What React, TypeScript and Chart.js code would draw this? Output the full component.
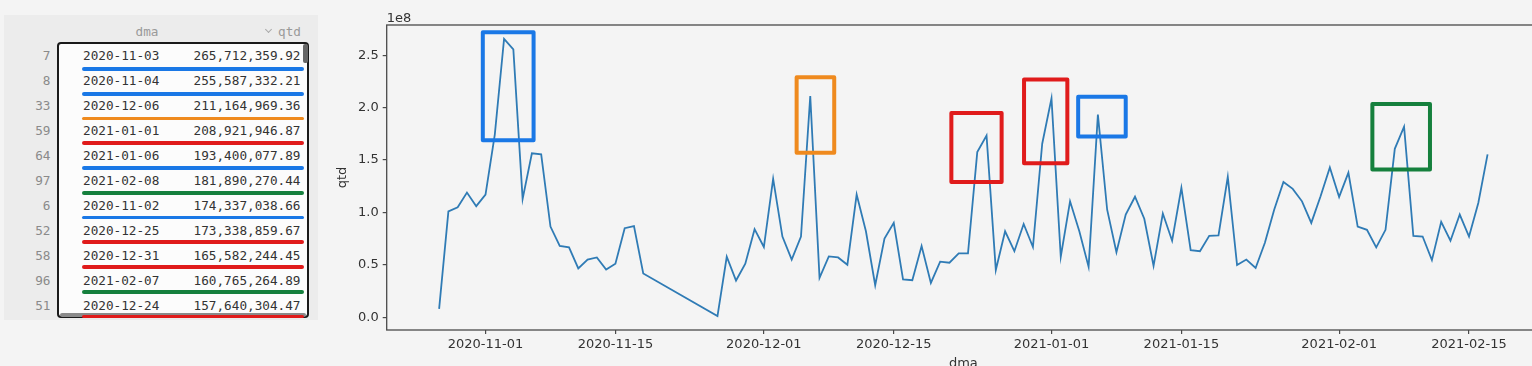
import React, { useEffect, useRef } from "react";
import { Chart, registerables } from "chart.js";

Chart.register(...registerables);

// ---------------- data ----------------
const dates = [
  "2020-10-27", "2020-10-28", "2020-10-29", "2020-10-30", "2020-10-31", "2020-11-01", "2020-11-02",
  "2020-11-03", "2020-11-04", "2020-11-05", "2020-11-06", "2020-11-07", "2020-11-08", "2020-11-09",
  "2020-11-10", "2020-11-11", "2020-11-12", "2020-11-13", "2020-11-14", "2020-11-15", "2020-11-16",
  "2020-11-17", "2020-11-18",
  "2020-11-26", "2020-11-27", "2020-11-28", "2020-11-29", "2020-11-30",
  "2020-12-01", "2020-12-02", "2020-12-03", "2020-12-04", "2020-12-05", "2020-12-06", "2020-12-07",
  "2020-12-08", "2020-12-09", "2020-12-10", "2020-12-11", "2020-12-12", "2020-12-13", "2020-12-14",
  "2020-12-15", "2020-12-16", "2020-12-17", "2020-12-18", "2020-12-19", "2020-12-20", "2020-12-21",
  "2020-12-22", "2020-12-23", "2020-12-24", "2020-12-25", "2020-12-26", "2020-12-27", "2020-12-28",
  "2020-12-29", "2020-12-30", "2020-12-31",
  "2021-01-01", "2021-01-02", "2021-01-03", "2021-01-04", "2021-01-05", "2021-01-06", "2021-01-07",
  "2021-01-08", "2021-01-09", "2021-01-10", "2021-01-11", "2021-01-12", "2021-01-13", "2021-01-14",
  "2021-01-15", "2021-01-16", "2021-01-17", "2021-01-18", "2021-01-19", "2021-01-20", "2021-01-21",
  "2021-01-22", "2021-01-23", "2021-01-24", "2021-01-25", "2021-01-26", "2021-01-27", "2021-01-28",
  "2021-01-29", "2021-01-30", "2021-01-31",
  "2021-02-01", "2021-02-02", "2021-02-03", "2021-02-04", "2021-02-05", "2021-02-06", "2021-02-07",
  "2021-02-08", "2021-02-09", "2021-02-10", "2021-02-11", "2021-02-12", "2021-02-13", "2021-02-14",
  "2021-02-15", "2021-02-16", "2021-02-17",
];

const qtd = [
  8000000, 101000000, 105000000, 119000000, 106000000, 117000000, 174337038.66,
  265712359.92, 255587332.21, 113000000, 156500000, 155500000, 86500000, 68000000,
  66700000, 46500000, 55000000, 57000000, 45500000, 51000000, 85000000,
  87000000, 41700000,
  1000000, 57700000, 35000000, 51000000, 84000000,
  67000000, 132000000, 77000000, 55000000, 77000000, 211164969.36, 37500000,
  58000000, 57000000, 50000000, 117000000, 82000000, 30500000, 75000000,
  90000000, 36000000, 35300000, 68000000, 32700000, 53000000, 52000000,
  61000000, 61000000, 157640304.47, 173338859.67, 45000000, 82000000, 63000000,
  89000000, 67000000, 165582244.45,
  208921946.87, 57700000, 110600000, 82000000, 48000000, 193400077.89, 102600000,
  62000000, 98000000, 115000000, 94000000, 49000000, 99000000, 73000000,
  123500000, 64000000, 63000000, 77600000, 78000000, 134000000, 49700000,
  55000000, 47000000, 71000000, 102600000, 129000000, 122500000, 110600000,
  90000000, 115400000, 143000000,
  114800000, 138000000, 86500000, 83400000, 66700000, 83400000, 160765264.89,
  181890270.44, 77600000, 77000000, 54500000, 91000000, 73000000, 98000000,
  77000000, 109000000, 155500000,
];

const xTickDates = [
  "2020-11-01", "2020-11-15", "2020-12-01", "2020-12-15",
  "2021-01-01", "2021-01-15", "2021-02-01", "2021-02-15",
];
const yTickValues = [0, 50000000, 100000000, 150000000, 200000000, 250000000];
const yScaleExponentLabel = "1e8";
const xAxisTitle = "dma";
const yAxisTitle = "qtd";

const BLUE = "#1a78e6";
const ORANGE = "#ef8a1e";
const RED = "#e01b1b";
const GREEN = "#15803d";

// highlight boxes (in data coordinates)
const highlightBoxes = [
  { from: "2020-10-31T17:00", to: "2020-11-06T04:20", low: 169000000, high: 272000000, color: BLUE },
  { from: "2020-12-04T12:45", to: "2020-12-08T14:00", low: 157000000, high: 229000000, color: ORANGE },
  { from: "2020-12-21T05:00", to: "2020-12-26T15:00", low: 129000000, high: 195000000, color: RED },
  { from: "2020-12-29T01:00", to: "2021-01-02T17:00", low: 147000000, high: 227000000, color: RED },
  { from: "2021-01-03T21:00", to: "2021-01-09T00:00", low: 172500000, high: 210500000, color: BLUE },
  { from: "2021-02-04T14:00", to: "2021-02-10T19:00", low: 141000000, high: 203500000, color: GREEN },
];

const tableRowCount = 11;
const rowUnderlineColors = [BLUE, BLUE, ORANGE, RED, BLUE, GREEN, BLUE, RED, RED, GREEN, RED];

// ---------------- helpers ----------------
const toMs = (s: string) => Date.parse(s.length === 10 ? s + "T00:00:00Z" : s + ":00Z");
const fmtDate = (ms: number) => new Date(ms).toISOString().slice(0, 10);
const fmtNum = (v: number) =>
  v.toLocaleString("en-US", { minimumFractionDigits: 2, maximumFractionDigits: 2 });

const FONT = "'DejaVu Sans', sans-serif";
const MONO = "'DejaVu Sans Mono', monospace";

function ChartCanvas() {
  const ref = useRef<HTMLCanvasElement | null>(null);

  useEffect(() => {
    if (!ref.current) return;
    const xs = dates.map(toMs);
    const xMin = Math.min(...xs), xMax = Math.max(...xs);
    const yMin = Math.min(...qtd), yMax = Math.max(...qtd);
    const xm = (xMax - xMin) * 0.05, ym = (yMax - yMin) * 0.05;

    const decor = {
      id: "decor",
      afterDatasetsDraw(chart: any) {
        const { ctx, scales } = chart;
        const sx = scales.x, sy = scales.y;
        ctx.save();
        ctx.lineWidth = 4;
        ctx.lineJoin = "round";
        for (const b of highlightBoxes) {
          const x0 = sx.getPixelForValue(toMs(b.from));
          const x1 = sx.getPixelForValue(toMs(b.to));
          const y0 = sy.getPixelForValue(b.high);
          const y1 = sy.getPixelForValue(b.low);
          ctx.strokeStyle = b.color;
          ctx.strokeRect(x0, y0, x1 - x0, y1 - y0);
        }
        ctx.restore();
      },
      afterDraw(chart: any) {
        const { ctx, chartArea } = chart;
        ctx.save();
        ctx.strokeStyle = "#4a4a4a";
        ctx.lineWidth = 1.3;
        ctx.strokeRect(chartArea.left, chartArea.top, chartArea.right - chartArea.left, chartArea.bottom - chartArea.top);
        ctx.fillStyle = "#333";
        ctx.font = `13px ${FONT}`;
        ctx.textAlign = "left";
        ctx.textBaseline = "alphabetic";
        ctx.fillText(yScaleExponentLabel, chartArea.left, chartArea.top - 3);
        ctx.textAlign = "center";
        ctx.textBaseline = "middle";
        ctx.fillText(xAxisTitle, (chartArea.left + chartArea.right) / 2, chartArea.bottom + 34);
        ctx.translate(13, (chartArea.top + chartArea.bottom) / 2);
        ctx.rotate(-Math.PI / 2);
        ctx.fillText(yAxisTitle, 0, 0);
        ctx.restore();
      },
    };

    const chart = new Chart(ref.current, {
      type: "line",
      data: {
        datasets: [
          {
            data: dates.map((d, i) => ({ x: toMs(d), y: qtd[i] })),
            borderColor: "#2f7bb5",
            borderWidth: 1.8,
            pointRadius: 0,
            tension: 0,
            fill: false,
          },
        ],
      },
      options: {
        animation: false,
        responsive: false,
        maintainAspectRatio: false,
        layout: { padding: { top: 25, right: 10, left: 0, bottom: 0 } },
        plugins: { legend: { display: false }, tooltip: { enabled: false } },
        scales: {
          x: {
            type: "linear",
            min: xMin - xm,
            max: xMax + xm,
            afterFit: (s: any) => { s.height = 36; },
            afterBuildTicks: (s: any) => { s.ticks = xTickDates.map((d) => ({ value: toMs(d) })); },
            ticks: {
              callback: (v: any) => fmtDate(Number(v)),
              color: "#333",
              font: { family: FONT, size: 13 },
              padding: 3,
              maxRotation: 0,
              autoSkip: false,
            },
            grid: { display: true, drawOnChartArea: false, drawTicks: true, tickLength: 4, color: "#4a4a4a", lineWidth: 1.2 },
            border: { display: false },
          },
          y: {
            type: "linear",
            min: yMin - ym,
            max: yMax + ym,
            afterFit: (s: any) => { s.width = 56.7; },
            afterBuildTicks: (s: any) => { s.ticks = yTickValues.map((v) => ({ value: v })); },
            ticks: {
              callback: (v: any) => (Number(v) / 1e8).toFixed(1),
              color: "#333",
              font: { family: FONT, size: 13 },
              padding: 4,
            },
            grid: { display: true, drawOnChartArea: false, drawTicks: true, tickLength: 4, color: "#4a4a4a", lineWidth: 1.2 },
            border: { display: false },
          },
        },
      },
      plugins: [decor],
    } as any);
    return () => chart.destroy();
  }, []);

  return (
    <canvas
      ref={ref}
      width={1220}
      height={366}
      style={{ position: "absolute", left: 330, top: 0, width: 1220, height: 366 }}
    />
  );
}

const monoText = (color: string): React.CSSProperties => ({
  fontFamily: MONO,
  fontSize: 12.7,
  lineHeight: "25px",
  height: 25,
  color,
  whiteSpace: "pre",
});

function TopTable() {
  const ranked = qtd
    .map((v, i) => ({ i, d: dates[i], v }))
    .sort((a, b) => b.v - a.v)
    .slice(0, tableRowCount);
  const rowTop = (k: number) => 43.2 + 25 * k;
  return (
    <>
      <div style={{ position: "absolute", left: 4, top: 15, width: 314, height: 305, background: "#ececec" }} />
      <div style={{ position: "absolute", left: 120, top: 18.5, width: 54, textAlign: "center", ...monoText("#9a9a9a") }}>dma</div>
      <div style={{ position: "absolute", left: 266, top: 26.5, width: 4, height: 4, borderRight: "1px solid #aaa", borderBottom: "1px solid #aaa", transform: "rotate(45deg)" }} />
      <div style={{ position: "absolute", right: 1532 - 301, top: 18.5, ...monoText("#9a9a9a") }}>qtd</div>
      <div style={{ position: "absolute", left: 57, top: 42, width: 252, height: 276, boxSizing: "border-box", border: "2px solid #1a1a1a", borderRadius: 4, background: "#fcfcfc" }} />
      <div style={{ position: "absolute", left: 302.5, top: 44, width: 5.5, height: 19, background: "#666", borderRadius: 2 }} />
      <div style={{ position: "absolute", left: 60, top: 313, width: 246, height: 3.5, background: "#8a8a8a", borderRadius: 2 }} />
      {ranked.map((r, k) => (
        <React.Fragment key={k}>
          <div style={{ position: "absolute", right: 1532 - 50.5, top: rowTop(k), ...monoText("#8a8a8a") }}>{r.i}</div>
          <div style={{ position: "absolute", left: 83, top: rowTop(k), ...monoText("#333") }}>{r.d}</div>
          <div style={{ position: "absolute", right: 1532 - 300.5, top: rowTop(k), ...monoText("#333") }}>{fmtNum(r.v)}</div>
          <div style={{ position: "absolute", left: 82, top: 67.2 + 24.75 * k, width: 222, height: 3.6, borderRadius: 2, background: rowUnderlineColors[k] }} />
        </React.Fragment>
      ))}
    </>
  );
}

export default function App() {
  return (
    <div style={{ position: "fixed", left: 0, top: 0, width: 1532, height: 366, overflow: "hidden", background: "#f4f4f4" }}>
      <TopTable />
      <ChartCanvas />
    </div>
  );
}
